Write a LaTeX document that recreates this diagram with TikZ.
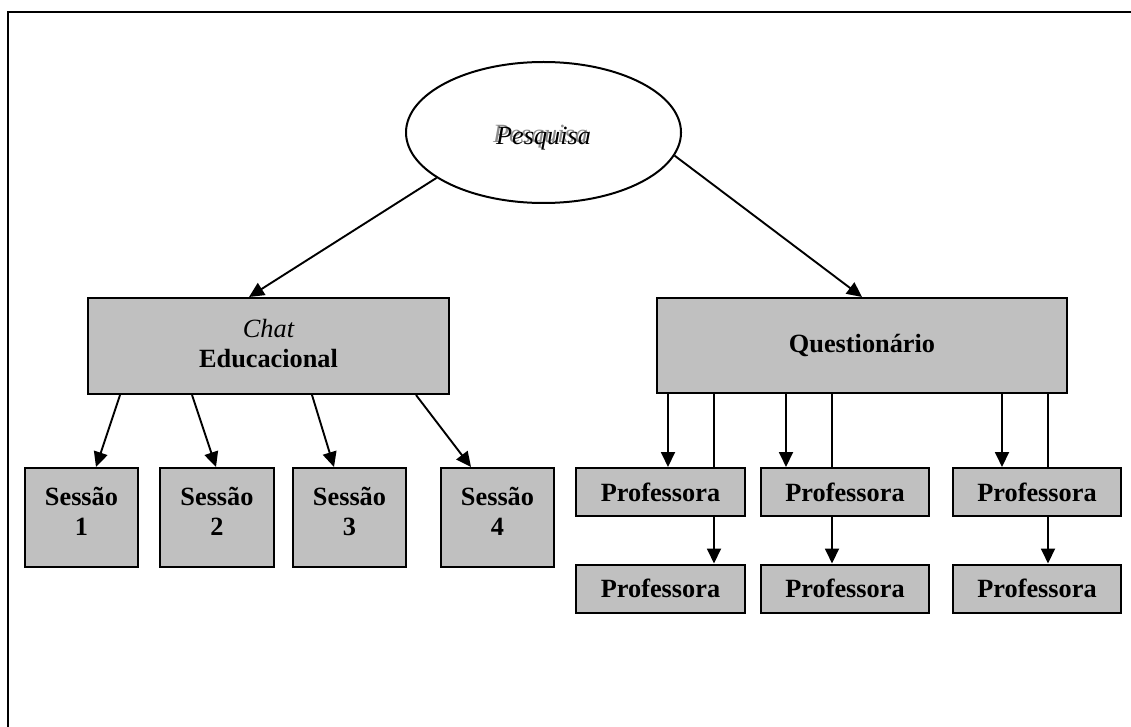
\documentclass[tikz,border=0pt]{standalone}
\usepackage{fontspec}
\setmainfont{Liberation Serif}
\usetikzlibrary{arrows.meta,shapes.geometric}
\definecolor{boxgray}{HTML}{C0C0C0}
\definecolor{shadowgray}{HTML}{8C8C8C}
% italic word with a soft gray shadow behind it
\newcommand\shadowword[1]{\makebox[0pt][l]{\kern-3pt\raisebox{1.5pt}{\color{shadowgray}#1}}#1}
\begin{document}
\begin{tikzpicture}[x=1pt,y=-1pt,
  font=\fontsize{26.3}{30}\selectfont,
  graybox/.style={draw=black, line width=2pt, fill=boxgray, inner sep=0pt,
    align=center, font=\fontsize{26.3}{30}\selectfont\bfseries},
  profbox/.style={graybox, minimum width=168pt, minimum height=48pt},
  sessbox/.style={graybox, minimum width=113pt, minimum height=99pt, text depth=12pt},
  link/.style={line width=1.9pt},
  arr/.style={link, -{Triangle[length=15pt,width=14pt]}}
]
\useasboundingbox (0,0) rectangle (1131,727);

% page frame
\draw[line width=2.5pt] (8,727) -- (8,12) -- (1131,12);

% top ellipse
\node (pes) [draw, ellipse, line width=2pt, minimum width=275pt,
  minimum height=141pt, inner sep=0pt] at (543.5,132.5)
  {\raisebox{-5pt}[\height][\depth]{\itshape\shadowword{Pesquisa}}};

% second level
\node (chat) [graybox, minimum width=361pt, minimum height=96pt, text depth=6pt]
  at (268.5,346) {{\mdseries\itshape Chat}\\Educacional};
\node (quest) [graybox, minimum width=410pt, minimum height=95pt] at (862,345.5)
  {Questionário};

% sessions
\node (s1) [sessbox] at (81.5,517.5) {Sessão\\1};
\node (s2) [sessbox, minimum width=114pt] at (217,517.5) {Sessão\\2};
\node (s3) [sessbox] at (349.5,517.5) {Sessão\\3};
\node (s4) [sessbox] at (497.5,517.5) {Sessão\\4};

% teachers
\node (pa1) [profbox, minimum width=169pt] at (660.5,492) {Professora};
\node (pb1) [profbox] at (845,492) {Professora};
\node (pc1) [profbox] at (1037,492) {Professora};
\node (pa2) [profbox, minimum width=169pt] at (660.5,588.5) {Professora};
\node (pb2) [profbox] at (845,588.5) {Professora};
\node (pc2) [profbox] at (1037,588.5) {Professora};

% ellipse to second level
\draw[arr] (pes.203) -- ([xshift=162pt]chat.north west);
\draw[arr] (pes.350) -- ([xshift=206pt]quest.north west);

% chat to sessions
\draw[arr] ([xshift=33pt]chat.south west) -- ([xshift=72pt]s1.north west);
\draw[arr] ([xshift=105pt]chat.south west) -- ([xshift=57pt]s2.north west);
\draw[arr] ([xshift=225pt]chat.south west) -- ([xshift=42pt]s3.north west);
\draw[arr] ([xshift=329pt]chat.south west) -- ([xshift=31pt]s4.north west);

% questionnaire to teachers
\draw[arr] ([xshift=12pt]quest.south west) -- ([xshift=93pt]pa1.north west);
\draw[link] ([xshift=58pt]quest.south west) -- ([xshift=139pt]pa1.north west);
\draw[arr] ([xshift=139pt]pa1.south west) -- ([xshift=139pt]pa2.north west);

\draw[arr] ([xshift=130pt]quest.south west) -- ([xshift=26pt]pb1.north west);
\draw[link] ([xshift=176pt]quest.south west) -- ([xshift=72pt]pb1.north west);
\draw[arr] ([xshift=72pt]pb1.south west) -- ([xshift=72pt]pb2.north west);

\draw[arr] ([xshift=346pt]quest.south west) -- ([xshift=50pt]pc1.north west);
\draw[link] ([xshift=392pt]quest.south west) -- ([xshift=96pt]pc1.north west);
\draw[arr] ([xshift=96pt]pc1.south west) -- ([xshift=96pt]pc2.north west);
\end{tikzpicture}
\end{document}
